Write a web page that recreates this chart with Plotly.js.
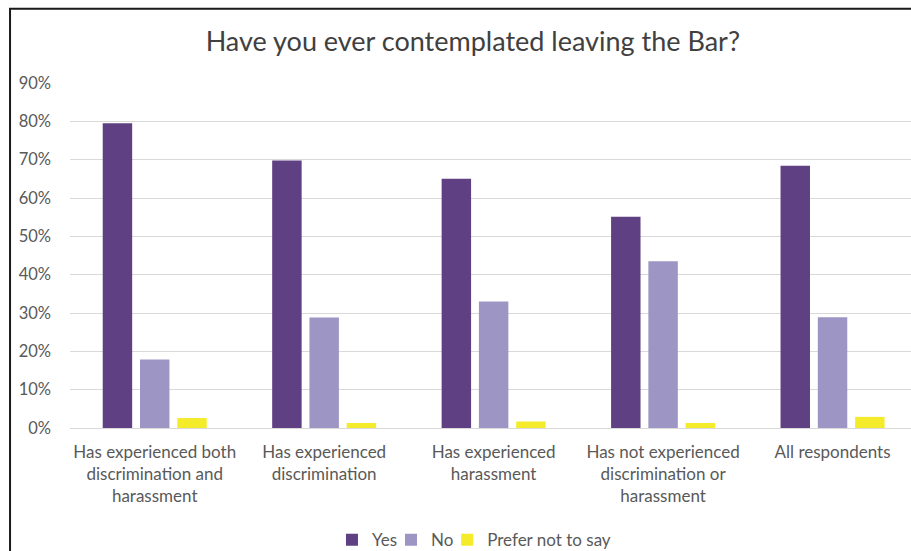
<!DOCTYPE html>
<html>
<head>
<meta charset="utf-8">
<script src="https://cdn.plot.ly/plotly-3.0.1.min.js"></script>
<style>
  html, body { margin: 0; padding: 0; background: #ffffff; }
  #chart { width: 911px; height: 551px; }
</style>
</head>
<body>
<div id="chart"></div>
<script>
// Data
var categories = [
  "Has experienced both<br>discrimination and<br>harassment",
  "Has experienced<br>discrimination",
  "Has experienced<br>harassment",
  "Has not experienced<br>discrimination or<br>harassment",
  "All respondents"
];
var yesValues    = [79.5, 69.8, 65.0, 55.1, 68.4];
var noValues     = [17.9, 28.8, 33.0, 43.5, 28.9];
var preferValues = [2.6, 1.3, 1.7, 1.3, 2.9];
var seriesNames  = ["Yes", "No", "Prefer not to say"];
var yTickValues  = [0, 10, 20, 30, 40, 50, 60, 70, 80, 90];
var yTickLabels  = ["0%", "10%", "20%", "30%", "40%", "50%", "60%", "70%", "80%", "90%"];

var FONT = "Lato, 'Open Sans', sans-serif";
var TEXT = "#595959";

var traces = [
  {type: "bar", name: seriesNames[0], x: categories, y: yesValues,
   marker: {color: "#5F4183"}, hoverinfo: "y", legend: "legend"},
  {type: "bar", name: seriesNames[1], x: categories, y: noValues,
   marker: {color: "#9D95C4"}, hoverinfo: "y", legend: "legend2"},
  {type: "bar", name: seriesNames[2], x: categories, y: preferValues,
   marker: {color: "#F4EB2A"}, hoverinfo: "y", legend: "legend3"}
];

function legendAt(xp) {
  return {
    orientation: "h",
    x: xp, xanchor: "left", xref: "paper",
    y: -0.325, yanchor: "middle", yref: "paper",
    font: {family: FONT, size: 17, color: TEXT},
    itemwidth: 30,
    bgcolor: "rgba(0,0,0,0)"
  };
}

var layout = {
  width: 911, height: 551,
  paper_bgcolor: "#ffffff", plot_bgcolor: "#ffffff",
  margin: {l: 70, r: 0, t: 83, b: 123, pad: 0, autoexpand: false},
  font: {family: FONT, color: TEXT, size: 16},
  title: {
    text: "Have you ever contemplated leaving the Bar?",
    font: {family: FONT, size: 27, color: "#404040"},
    x: 0.479, xref: "paper", xanchor: "center",
    y: 0.924, yref: "container", yanchor: "middle"
  },
  barmode: "group",
  bargap: 0.34,
  bargroupgap: 0.21,
  xaxis: {
    type: "category",
    range: [-0.5, 4.463],
    autorange: false,
    showgrid: false, showline: false, zeroline: false,
    ticks: "", ticklabelstandoff: 12,
    tickfont: {family: FONT, size: 17, color: TEXT},
    automargin: false,
    fixedrange: true
  },
  yaxis: {
    range: [0, 90], autorange: false,
    tickmode: "array",
    tickvals: yTickValues,
    ticktext: yTickLabels,
    showgrid: true, gridcolor: "#D9D9D9", gridwidth: 1,
    zeroline: true, zerolinecolor: "#D9D9D9", zerolinewidth: 1,
    showline: false, ticks: "", ticklabelstandoff: 18,
    tickfont: {family: FONT, size: 16.5, color: TEXT},
    automargin: false,
    fixedrange: true
  },
  showlegend: true,
  legend: legendAt(0.3115),
  legend2: legendAt(0.3817),
  legend3: legendAt(0.4485),
  shapes: [{
    type: "rect", xref: "paper", yref: "paper",
    x0: -0.0713, x1: 1.2, y0: -0.6, y1: 1.2154,
    line: {color: "#1a1a1a", width: 2},
    fillcolor: "rgba(0,0,0,0)", layer: "above"
  }]
};

Plotly.newPlot("chart", traces, layout, {displayModeBar: false, staticPlot: true});
</script>
</body>
</html>
